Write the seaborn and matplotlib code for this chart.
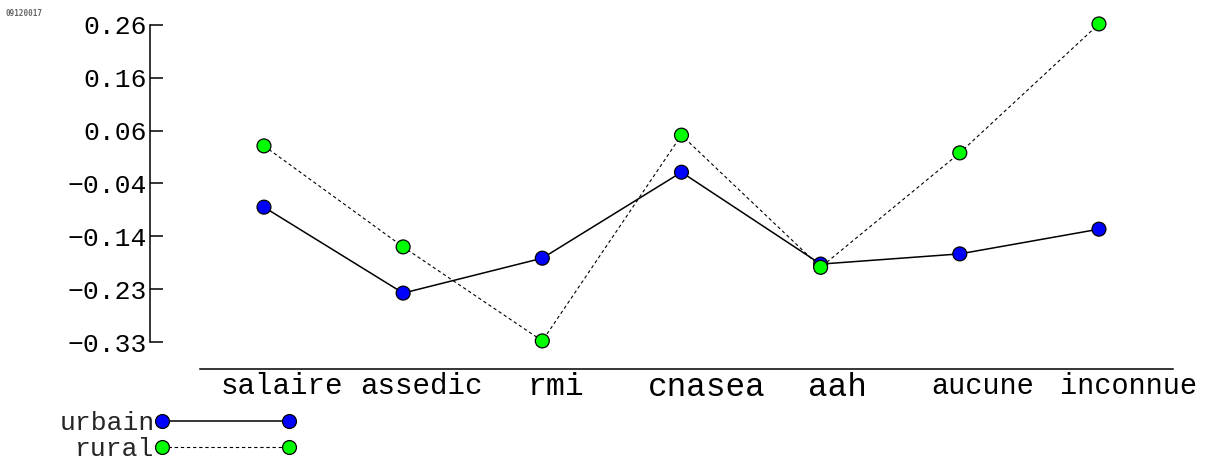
import numpy as np
import pandas as pd
import seaborn as sns
import matplotlib.pyplot as plt
import matplotlib.transforms as mtransforms
from matplotlib.lines import Line2D

# data
sources = ["salaire", "assedic", "rmi", "cnasea", "aah", "aucune", "inconnue"]
urbain = [-0.079, -0.239, -0.174, -0.014, -0.185, -0.166, -0.120]
rural = [0.035, -0.153, -0.328, 0.055, -0.191, 0.022, 0.262]
ytick_labels = ["\u22120.33", "\u22120.23", "\u22120.14", "\u22120.04", "0.06", "0.16", "0.26"]
ymin, ymax = -0.33, 0.26

df = pd.concat([
    pd.DataFrame({"source": sources, "value": urbain, "zone": "urbain"}),
    pd.DataFrame({"source": sources, "value": rural, "zone": "rural"}),
])

sns.set_theme(style="white")
plt.rcParams["font.family"] = ["Liberation Mono", "DejaVu Sans Mono"]

W, H = 1216, 461
fig = plt.figure(figsize=(W / 100, H / 100), dpi=100)
ax = fig.add_axes([150 / W, 1 - 342 / H, 1023 / W, 317 / H])

palette = {"urbain": "#0000ff", "rural": "#00ff00"}

sns.lineplot(data=df, x="source", y="value", style="zone",
             dashes={"urbain": "", "rural": (3, 2.5)}, color="black",
             sort=False, legend=False, ax=ax, linewidth=1.1)
ax.lines[1].set_linewidth(0.8)
sns.scatterplot(data=df, x="source", y="value", hue="zone", palette=palette,
                s=100, edgecolor="black", linewidth=0.9, legend=False,
                ax=ax, zorder=3)

for art in ax.lines + ax.collections:
    art.set_clip_on(False)

ax.set_xlim(-0.819, 6.532)
ax.set_ylim(ymin, ymax)
ax.set_xlabel("")
ax.set_ylabel("")

# axes lines
for s in ["top", "right"]:
    ax.spines[s].set_visible(False)
ax.spines["left"].set_linewidth(1.1)
ax.spines["left"].set_color("black")
ax.spines["bottom"].set_linewidth(1.1)
ax.spines["bottom"].set_color("black")
ax.spines["bottom"].set_position(("outward", 19.4))
ax.spines["bottom"].set_bounds(-0.46, 6.532)

ax.set_yticks(np.linspace(ymin, ymax, 7))
ax.set_yticklabels(ytick_labels)
ax.tick_params(axis="y", direction="in", length=9.4, width=1.1, pad=2,
               labelsize=19, colors="black", left=True)
ax.set_xticks(range(len(sources)))
ax.set_xticklabels(sources)
ax.tick_params(axis="x", length=0, pad=2, colors="black")

xsizes = [21, 21, 22.7, 23.5, 23.5, 20.6, 20.6]
xshift = [18, 18, 13, 25, 17, 23, 30]
for lab, fs, dx in zip(ax.get_xticklabels(), xsizes, xshift):
    lab.set_fontsize(fs)
    lab.set_transform(lab.get_transform() +
                      mtransforms.ScaledTranslation(dx / 100, 0, fig.dpi_scale_trans))

# legend below the axis, labels on the left
handles = [
    Line2D([], [], color="black", lw=1.1, marker="o", markersize=10,
           markerfacecolor=palette["urbain"], markeredgecolor="black", markeredgewidth=0.9),
    Line2D([], [], color="black", lw=0.8, ls=(0, (3, 2.5)), marker="o", markersize=10,
           markerfacecolor=palette["rural"], markeredgecolor="black", markeredgewidth=0.9),
]
fig.legend(handles, ["urbain", "rural"], loc="center right",
           bbox_to_anchor=(297 / W, 1 - 436 / H), markerfirst=False, numpoints=2,
           handlelength=5.4, handletextpad=0, labelspacing=0.08, frameon=False,
           fontsize=19, borderpad=0, borderaxespad=0)

fig.text(5 / W, 1 - 14 / H, "09120017", fontsize=5.5, color="#666666",
         va="center", family="DejaVu Sans Mono", weight="bold")

plt.savefig("out.png", dpi=100)
